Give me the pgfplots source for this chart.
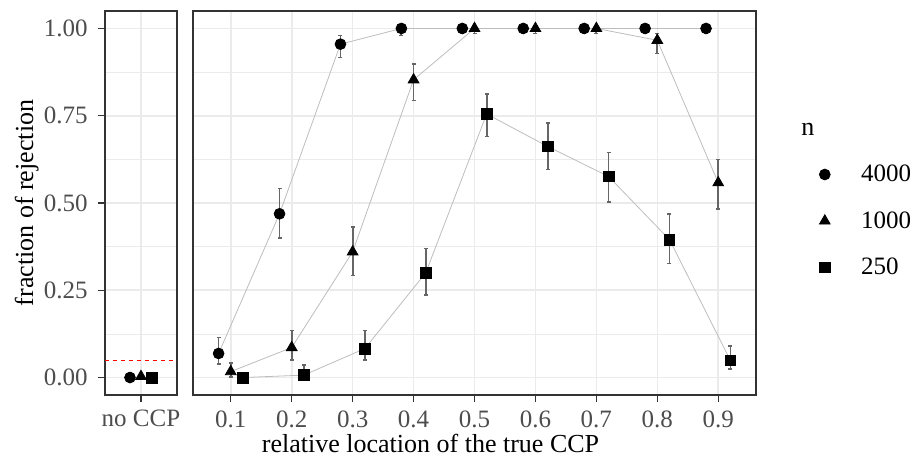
\documentclass[border=0pt]{standalone}
\usepackage{pgfplots}
\usepackage{pgfplotstable}
\pgfplotsset{compat=1.18}
\usepackage{fontspec}
\setmainfont{Liberation Serif}
\definecolor{gridc}{HTML}{EBEBEB}
\definecolor{framec}{HTML}{333333}
\definecolor{tickc}{HTML}{4D4D4D}
\definecolor{errc}{HTML}{666666}
\definecolor{linec}{HTML}{BDBDBD}

% n = 4000 (plotted at location - 0.02)
\pgfplotstableread{
x y lo hi
0.08 0.069 0.039 0.115
0.18 0.469 0.400 0.541
0.28 0.955 0.917 0.980
0.38 1.000 0.980 1.000
0.48 1.000 0.985 1.000
0.58 1.000 0.985 1.000
0.68 1.000 0.985 1.000
0.78 1.000 0.985 1.000
0.88 1.000 0.985 1.000
}\tabA
% n = 1000 (plotted at location)
\pgfplotstableread{
x y lo hi
0.1 0.017 0.002 0.042
0.2 0.086 0.050 0.134
0.3 0.360 0.293 0.431
0.4 0.853 0.793 0.898
0.5 1.000 0.985 1.000
0.6 1.000 0.985 1.000
0.7 1.000 0.985 1.000
0.8 0.966 0.929 0.986
0.9 0.558 0.483 0.624
}\tabB
% n = 250 (plotted at location + 0.02)
\pgfplotstableread{
x y lo hi
0.12 0.000 0.000 0.015
0.22 0.007 0.000 0.036
0.32 0.083 0.050 0.134
0.42 0.300 0.236 0.369
0.52 0.755 0.690 0.812
0.62 0.662 0.596 0.729
0.72 0.576 0.503 0.644
0.82 0.395 0.326 0.469
0.92 0.049 0.024 0.090
}\tabC
% no CCP
\pgfplotstableread{
x y lo hi
-1 0.000 0.000 0.015
}\tabNA
\pgfplotstableread{
x y lo hi
0 0.003 0.000 0.012
}\tabNB
\pgfplotstableread{
x y lo hi
1 0.000 0.000 0.012
}\tabNC

\pgfplotsset{
  facet/.style={
    scale only axis, height=192pt, ymin=-0.05, ymax=1.05,
    axis line style={framec, line width=0.8pt},
    tick style={framec, line width=0.7pt},
    tick align=outside, major tick length=3.5pt, minor tick length=0pt,
    xtick pos=bottom, ytick pos=left,
    ytick={0,0.25,0.5,0.75,1}, minor ytick={0.125,0.375,0.625,0.875},
    ymajorgrids, yminorgrids, xmajorgrids,
    major grid style={gridc, line width=0.8pt},
    minor grid style={gridc, line width=0.4pt},
    tick label style={font=\fontsize{12.5}{14}\selectfont, text=tickc, inner sep=0pt},
    xticklabel style={yshift=-4pt},
    yticklabel style={xshift=-5pt},
  },
  errs/.style={forget plot, draw=none, mark=none,
    error bars/.cd, y dir=both, y explicit,
    error bar style={errc, line width=0.9pt},
    error mark options={errc, line width=0.7pt, mark size=1pt, rotate=90}},
  conn/.style={forget plot, linec, line width=0.4pt, mark=none},
}

\begin{document}
\begin{tikzpicture}
\path[use as bounding box] (0,0) rectangle (458pt,230pt);
% left facet: no CCP
\begin{axis}[facet, at={(52.5pt,32.5pt)}, anchor=south west, width=36pt,
  xmin=-3.27, xmax=3.27, xtick={0}, xticklabels={no CCP},
  yticklabels={0.00,0.25,0.50,0.75,1.00}]
\addplot[red, line width=0.5pt, dash pattern=on 2pt off 2pt, forget plot] coordinates {(-3.27,0.05) (3.27,0.05)};
\addplot[errs] table[x=x, y=y, y error plus expr=\thisrow{hi}-\thisrow{y}, y error minus expr=\thisrow{y}-\thisrow{lo}] {\tabNA};
\addplot[errs] table[x=x, y=y, y error plus expr=\thisrow{hi}-\thisrow{y}, y error minus expr=\thisrow{y}-\thisrow{lo}] {\tabNB};
\addplot[errs] table[x=x, y=y, y error plus expr=\thisrow{hi}-\thisrow{y}, y error minus expr=\thisrow{y}-\thisrow{lo}] {\tabNC};
\addplot[only marks, mark=*, mark size=2.7pt, black] table[x=x, y=y] {\tabNA};
\addplot[only marks, mark=triangle*, mark size=3.1pt, black] table[x=x, y=y] {\tabNB};
\addplot[only marks, mark=square*, mark size=2.7pt, black] table[x=x, y=y] {\tabNC};
\end{axis}
% main facet
\begin{axis}[facet, at={(96.5pt,32.5pt)}, anchor=south west, width=281.5pt,
  xmin=0.038, xmax=0.962, xtick={0.1,0.2,0.3,0.4,0.5,0.6,0.7,0.8,0.9},
  xticklabels={0.1,0.2,0.3,0.4,0.5,0.6,0.7,0.8,0.9},
  yticklabels={}, ytick style={draw=none},
  legend image code/.code={\path (-6pt,0pt) (18pt,0pt); \draw[#1] plot coordinates {(0pt,0pt)};},
  legend style={at={(1,0.5)}, anchor=west, xshift=28pt, yshift=-9pt,
    draw=none, fill=none, font=\fontsize{12.5}{14}\selectfont, row sep=15.75pt,
    inner sep=0pt, nodes={inner sep=0pt, text height=7.5pt, text depth=0pt},
    /tikz/every even column/.append style={column sep=0pt}},
  legend cell align=left]
\addplot[conn] table[x=x, y=y] {\tabA};
\addplot[conn] table[x=x, y=y] {\tabB};
\addplot[conn] table[x=x, y=y] {\tabC};
\addplot[errs] table[x=x, y=y, y error plus expr=\thisrow{hi}-\thisrow{y}, y error minus expr=\thisrow{y}-\thisrow{lo}] {\tabA};
\addplot[errs] table[x=x, y=y, y error plus expr=\thisrow{hi}-\thisrow{y}, y error minus expr=\thisrow{y}-\thisrow{lo}] {\tabB};
\addplot[errs] table[x=x, y=y, y error plus expr=\thisrow{hi}-\thisrow{y}, y error minus expr=\thisrow{y}-\thisrow{lo}] {\tabC};
\addplot[only marks, mark=*, mark size=2.7pt, black] table[x=x, y=y] {\tabA};
\addlegendentry{4000}
\addplot[only marks, mark=triangle*, mark size=3.1pt, black] table[x=x, y=y] {\tabB};
\addlegendentry{1000}
\addplot[only marks, mark=square*, mark size=2.7pt, black] table[x=x, y=y] {\tabC};
\addlegendentry{250}
\end{axis}
\node[anchor=base west, font=\fontsize{13}{15}\selectfont, inner sep=0pt] at (400.5pt,162.1pt) {n};
\node[anchor=base, font=\fontsize{13}{15}\selectfont, inner sep=0pt] at (215.25pt,3.5pt) {relative location of the true CCP};
\node[anchor=base, rotate=90, font=\fontsize{13}{15}\selectfont, inner sep=0pt] at (16.5pt,128.5pt) {fraction of rejection};
\end{tikzpicture}
\end{document}
